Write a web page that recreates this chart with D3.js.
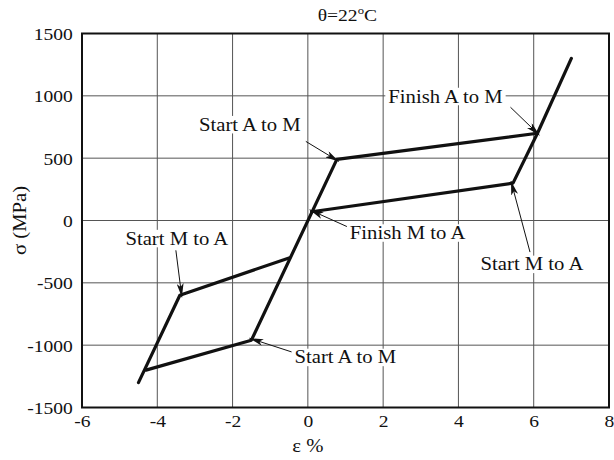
<!DOCTYPE html>
<html>
<head>
<meta charset="utf-8">
<script src="https://cdn.jsdelivr.net/npm/d3@7"></script>
<style>
  body { margin: 0; background: #fff; }
  text { font-family: "Liberation Serif", "Times New Roman", serif; fill: #111; }
</style>
</head>
<body>
<div id="chart"></div>
<script>
// strain (%) / stress (MPa)
var loopOuterX = [-4.5, -3.4, -0.5];
var loopOuterY = [-1300, -600, -300];
var loadX = [-4.3, -1.5, 0.77, 6.1, 7.0];
var loadY = [-1200, -960, 490, 700, 1300];
var unloadX = [0.1, 5.45, 6.1];
var unloadY = [70, 300, 700];

var xTicks = [-6, -4, -2, 0, 2, 4, 6, 8];
var yTicks = [-1500, -1000, -500, 0, 500, 1000, 1500];

// annotations: label, point it points at
var noteText = ["Start A to M", "Finish A to M", "Finish M to A", "Start M to A", "Start M to A", "Start A to M"];
var noteX = [0.77, 6.1, 0.1, -3.4, 5.45, -1.5];
var noteY = [490, 700, 70, -600, 300, -960];

var svgWidth = 614;
var svgHeight = 460;
var margin = {top: 33.5, right: 5, bottom: 52.5, left: 82};
var width = svgWidth - margin.left - margin.right;
var height = svgHeight - margin.top - margin.bottom;
var stretch = 1.15; // the source lettering is wide

var svg = d3.select("#chart")
  .append("svg")
  .attr("width", svgWidth)
  .attr("height", svgHeight);

var chartGroup = svg.append("g")
  .attr("transform", `translate(${margin.left}, ${margin.top})`);

var xScale = d3.scaleLinear().domain([-6, 8]).range([0, width]);
var yScale = d3.scaleLinear().domain([-1500, 1500]).range([height, 0]);

function widen(sel, x, y) {
  sel.attr("transform", `translate(${x},${y}) scale(${stretch},1) translate(${-x},${-y})`);
}

// grid
chartGroup.append("g")
  .selectAll("line")
  .data(xTicks)
  .join("line")
  .attr("x1", d => xScale(d)).attr("x2", d => xScale(d))
  .attr("y1", 0).attr("y2", height)
  .attr("stroke", "#555").attr("stroke-width", 1);

chartGroup.append("g")
  .selectAll("line")
  .data(yTicks)
  .join("line")
  .attr("y1", d => yScale(d)).attr("y2", d => yScale(d))
  .attr("x1", 0).attr("x2", width)
  .attr("stroke", "#555").attr("stroke-width", 1);

// axes (labels only, the frame is drawn below)
var fmt = d => String(d).replace("−", "-");
var bottomAxis = d3.axisBottom(xScale).tickValues(xTicks).tickSize(0).tickPadding(7).tickFormat(fmt);
var leftAxis = d3.axisLeft(yScale).tickValues(yTicks).tickSize(0).tickPadding(8).tickFormat(fmt);

var gx = chartGroup.append("g")
  .attr("transform", `translate(0, ${height})`)
  .call(bottomAxis);
var gy = chartGroup.append("g").call(leftAxis);
[gx, gy].forEach(function(g) {
  g.attr("font-family", null).attr("font-size", null);
  g.select(".domain").remove();
  g.selectAll("text")
    .style("font-family", "'Liberation Serif', serif")
    .style("font-size", "17px")
    .attr("fill", "#111")
    .attr("transform", `scale(${stretch},1)`);
});
gy.selectAll("text").attr("dy", "0.35em");

// curves
var line = d3.line().x(d => xScale(d[0])).y(d => yScale(d[1]));
var curves = [
  d3.zip(loopOuterX, loopOuterY),
  d3.zip(loadX, loadY),
  d3.zip(unloadX, unloadY)
];
chartGroup.append("g")
  .selectAll("path")
  .data(curves)
  .join("path")
  .attr("d", line)
  .attr("fill", "none")
  .attr("stroke", "#111")
  .attr("stroke-width", 3.2)
  .attr("stroke-linejoin", "round")
  .attr("stroke-linecap", "round");

// frame
chartGroup.append("rect")
  .attr("width", width).attr("height", height)
  .attr("fill", "none").attr("stroke", "#111").attr("stroke-width", 2);

// annotations
svg.append("defs").append("marker")
  .attr("id", "head")
  .attr("viewBox", "0 0 14 7")
  .attr("refX", 14).attr("refY", 3.5)
  .attr("markerWidth", 14).attr("markerHeight", 7)
  .attr("markerUnits", "userSpaceOnUse")
  .attr("orient", "auto")
  .append("path")
  .attr("d", "M0,0 L14,3.5 L0,7 L3.5,3.5 Z")
  .attr("fill", "#111");

// label centre and arrow tail, pixel offsets from the target
var labelOff = [[-87, -35], [-92, -37], [96, 21], [-3, -57], [19, 81], [94, 17]];
var tailOff = [[-31, -18], [-27, -26], [38, 16], [-4, -45], [17, 69], [41, 12]];

var notes = chartGroup.append("g")
  .selectAll("g")
  .data(noteText.map((t, i) => ({t: t, i: i})))
  .join("g");

notes.append("line")
  .attr("x1", d => xScale(noteX[d.i]) + tailOff[d.i][0])
  .attr("y1", d => yScale(noteY[d.i]) + tailOff[d.i][1])
  .attr("x2", d => xScale(noteX[d.i]) - 2 * Math.sign(tailOff[d.i][0]))
  .attr("y2", d => yScale(noteY[d.i]) - 2 * Math.sign(tailOff[d.i][1]))
  .attr("stroke", "#111").attr("stroke-width", 1)
  .attr("marker-end", "url(#head)");

var labels = notes.append("text")
  .attr("x", d => xScale(noteX[d.i]) + labelOff[d.i][0])
  .attr("y", d => yScale(noteY[d.i]) + labelOff[d.i][1])
  .attr("text-anchor", "middle")
  .attr("dy", "0.35em")
  .style("font-size", "18px")
  .text(d => d.t);

labels.each(function(d) {
  var x = xScale(noteX[d.i]) + labelOff[d.i][0];
  var y = yScale(noteY[d.i]) + labelOff[d.i][1];
  widen(d3.select(this), x, y);
  var b = this.getBBox();
  var w = b.width * stretch;
  d3.select(this.parentNode).insert("rect", "text")
    .attr("x", x - w / 2 - 3).attr("y", b.y + 1)
    .attr("width", w + 6).attr("height", b.height - 2)
    .attr("fill", "#fff");
});

// titles
var tx = margin.left + xScale(1.05);
var title = svg.append("text")
  .attr("x", tx)
  .attr("y", 21)
  .attr("text-anchor", "middle")
  .style("font-size", "17px");
title.append("tspan").text("θ=22");
title.append("tspan").attr("dy", -7).style("font-size", "11px").text("o");
title.append("tspan").attr("dy", 7).text("C");
widen(title, tx, 21);

var xl = margin.left + xScale(0);
var xLabel = svg.append("text")
  .attr("x", xl)
  .attr("y", 452)
  .attr("text-anchor", "middle")
  .style("font-size", "18px")
  .text("ε  %");
widen(xLabel, xl, 452);

svg.append("text")
  .attr("transform", `translate(26, ${margin.top + yScale(0)}) rotate(-90) scale(${stretch},1)`)
  .attr("text-anchor", "middle")
  .style("font-size", "18px")
  .text("σ (MPa)");
</script>
</body>
</html>
